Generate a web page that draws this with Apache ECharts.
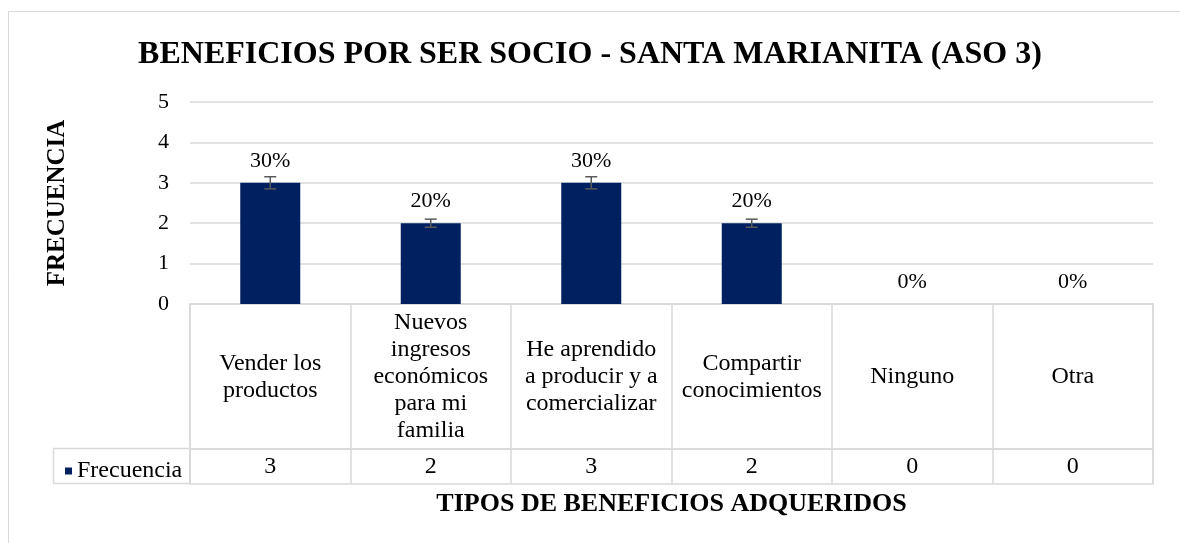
<!DOCTYPE html>
<html>
<head>
<meta charset="utf-8">
<script src="https://cdn.jsdelivr.net/npm/echarts@6/dist/echarts.min.js"></script>
<style>
html,body{margin:0;padding:0;background:#fff;}
#chart{width:1180px;height:543px;}
</style>
</head>
<body>
<div id="chart"></div>
<script>
const categories = ["Vender los\nproductos", "Nuevos\ningresos\necon\u00f3micos\npara mi\nfamilia", "He aprendido\na producir y a\ncomercializar", "Compartir\nconocimientos", "Ninguno", "Otra"];
const frecuencia = [3, 2, 3, 2, 0, 0];
const porcentajes = ["30%", "20%", "30%", "20%", "0%", "0%"];
const errores = [0.15, 0.1, 0.15, 0.1, 0, 0];
const yTicks = { min: 0, max: 5, interval: 1 };
const seriesName = "Frecuencia";

const FONT = "Liberation Serif";
const GRID_COLOR = "#d9d9d9";
const BAR_COLOR = "#002060";

const chart = echarts.init(document.getElementById('chart'), null, { renderer: 'canvas' });

const option = {
  backgroundColor: '#fff',
  animation: false,
  title: {
    text: 'BENEFICIOS POR SER SOCIO - SANTA MARIANITA (ASO 3)',
    left: 'center',
    top: 34,
    textStyle: { fontFamily: FONT, fontWeight: 'bold', fontSize: 32, color: '#000' }
  },
  legend: {
    data: [seriesName],
    left: 60,
    top: 454,
    icon: 'rect',
    itemWidth: 7,
    itemHeight: 7,
    textStyle: { fontFamily: FONT, fontSize: 24, color: '#000' }
  },
  graphic: [
    { type: 'rect', shape: { x: 8.5, y: 11.5, width: 1300, height: 700 }, style: { fill: 'none', stroke: GRID_COLOR, lineWidth: 1 }, silent: true, z: -10 },
    { type: 'rect', shape: { x: 53.5, y: 448.5, width: 136.5, height: 35 }, style: { fill: 'none', stroke: GRID_COLOR, lineWidth: 1.5 }, silent: true }
  ],
  grid: [
    { left: 190, right: 27, top: 102, height: 202 },
    { left: 190, right: 27, top: 304, height: 145, show: true, borderColor: GRID_COLOR, borderWidth: 1.5 },
    { left: 190, right: 27, top: 449, height: 35, show: true, borderColor: GRID_COLOR, borderWidth: 1.5 }
  ],
  xAxis: [
    {
      gridIndex: 0, type: 'category', data: categories,
      axisLine: { show: true, lineStyle: { color: GRID_COLOR, width: 1.5 } },
      axisTick: { show: false }, axisLabel: { show: false },
      name: 'TIPOS DE BENEFICIOS ADQUERIDOS', nameLocation: 'middle', nameGap: 187,
      nameTextStyle: { fontFamily: FONT, fontWeight: 'bold', fontSize: 26, color: '#000' }
    },
    {
      gridIndex: 1, type: 'category', data: categories, position: 'top',
      axisLine: { show: false }, axisTick: { show: false },
      splitLine: { show: true, lineStyle: { color: GRID_COLOR, width: 1.5 } },
      axisLabel: { inside: true, margin: 73, verticalAlign: 'middle', align: 'center', interval: 0,
        fontFamily: FONT, fontSize: 24, lineHeight: 27, color: '#000' }
    },
    {
      gridIndex: 2, type: 'category', data: categories, position: 'top',
      axisLine: { show: false }, axisTick: { show: false },
      splitLine: { show: true, lineStyle: { color: GRID_COLOR, width: 1.5 } },
      axisLabel: { inside: true, margin: 18, verticalAlign: 'middle', align: 'center', interval: 0,
        fontFamily: FONT, fontSize: 24, color: '#000',
        formatter: (v, i) => String(frecuencia[i]) }
    }
  ],
  yAxis: [
    {
      gridIndex: 0, type: 'value', min: yTicks.min, max: yTicks.max, interval: yTicks.interval,
      axisLine: { show: false }, axisTick: { show: false },
      axisLabel: { margin: 21, fontFamily: FONT, fontSize: 22, color: '#000' },
      splitLine: { show: true, lineStyle: { color: GRID_COLOR, width: 1.5 } },
      name: 'FRECUENCIA', nameLocation: 'middle', nameGap: 120,
      nameTextStyle: { fontFamily: FONT, fontWeight: 'bold', fontSize: 25, color: '#000' }
    },
    { gridIndex: 1, type: 'value', show: false, min: 0, max: 1 },
    { gridIndex: 2, type: 'value', show: false, min: 0, max: 1 }
  ],
  series: [
    {
      name: seriesName, type: 'bar', xAxisIndex: 0, yAxisIndex: 0,
      data: frecuencia, barWidth: 60,
      itemStyle: { color: BAR_COLOR },
      label: { show: true, position: 'top', distance: 11,
        fontFamily: FONT, fontSize: 22, color: '#000',
        formatter: p => porcentajes[p.dataIndex] }
    },
    {
      type: 'custom', xAxisIndex: 0, yAxisIndex: 0, z: 5,
      data: frecuencia.map((v, i) => [i, v, errores[i]]),
      renderItem: (params, api) => {
        const i = api.value(0), v = api.value(1), e = api.value(2);
        if (!e) return null;
        const hi = api.coord([i, v + e]);
        const lo = api.coord([i, v - e]);
        const cap = 6;
        const st = { stroke: '#595959', lineWidth: 1.5 };
        return { type: 'group', children: [
          { type: 'line', shape: { x1: hi[0], y1: hi[1], x2: lo[0], y2: lo[1] }, style: st },
          { type: 'line', shape: { x1: hi[0] - cap, y1: hi[1], x2: hi[0] + cap, y2: hi[1] }, style: st },
          { type: 'line', shape: { x1: lo[0] - cap, y1: lo[1], x2: lo[0] + cap, y2: lo[1] }, style: st }
        ]};
      }
    }
  ]
};
chart.setOption(option);
</script>
</body>
</html>
